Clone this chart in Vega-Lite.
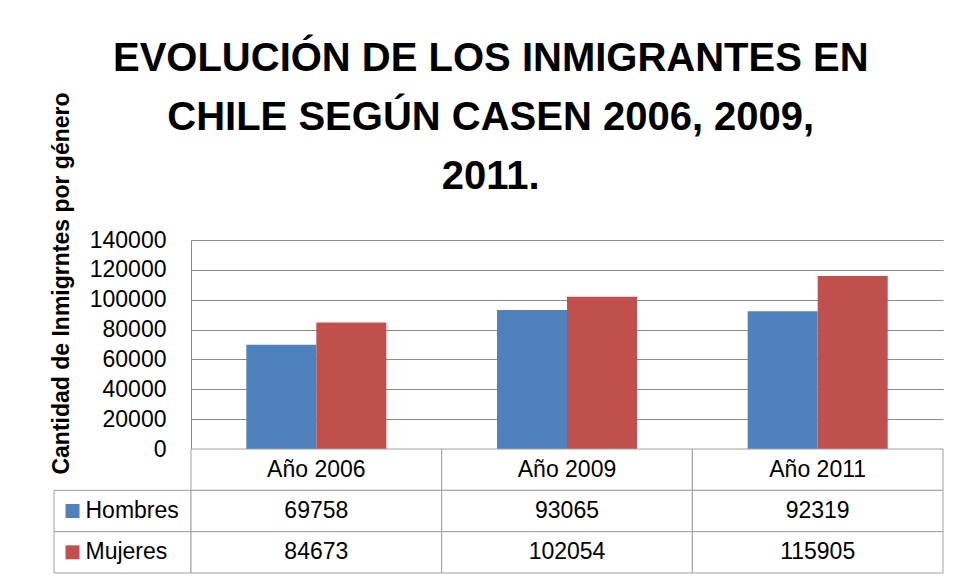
{
  "$schema": "https://vega.github.io/schema/vega-lite/v6.json",
  "background": "white",
  "padding": {"left": 49, "top": 38, "right": 5, "bottom": 5},
  "title": {
    "text": ["EVOLUCIÓN DE LOS INMIGRANTES EN", "CHILE SEGÚN CASEN 2006, 2009,", "2011."],
    "font": "Liberation Sans",
    "fontSize": 40,
    "fontWeight": "bold",
    "lineHeight": 59,
    "color": "black",
    "anchor": "middle",
    "offset": -105,
    "dx": -6
  },
  "datasets": {
    "casen": [
      {"year": "Año 2006", "series": "Hombres", "value": 69758},
      {"year": "Año 2006", "series": "Mujeres", "value": 84673},
      {"year": "Año 2009", "series": "Hombres", "value": 93065},
      {"year": "Año 2009", "series": "Mujeres", "value": 102054},
      {"year": "Año 2011", "series": "Hombres", "value": 92319},
      {"year": "Año 2011", "series": "Mujeres", "value": 115905}
    ],
    "headers": [
      {"year": "Año 2006", "series": "header"},
      {"year": "Año 2009", "series": "header"},
      {"year": "Año 2011", "series": "header"}
    ]
  },
  "columns": 2,
  "spacing": 0,
  "bounds": "flush",
  "align": "each",
  "resolve": {"scale": {"x": "independent", "y": "independent", "color": "shared"}},
  "concat": [
    {
      "width": 137,
      "height": 209,
      "data": {"values": []},
      "mark": "point"
    },
    {
      "width": 752,
      "height": 209,
      "data": {"name": "casen"},
      "mark": {"type": "bar"},
      "encoding": {
        "x": {"field": "year", "type": "nominal", "scale": {"paddingInner": 0.4415, "paddingOuter": 0.2207}, "axis": null},
        "xOffset": {"field": "series", "type": "nominal", "scale": {"paddingInner": 0, "paddingOuter": 0}},
        "y": {
          "field": "value", "type": "quantitative",
          "scale": {"domain": [0, 140000], "nice": false},
          "axis": {
            "values": [0, 20000, 40000, 60000, 80000, 100000, 120000, 140000],
            "format": "d",
            "title": "Cantidad de Inmigrntes por género",
            "grid": true, "gridColor": "#8c8c8c", "gridWidth": 1,
            "domainColor": "#8c8c8c",
            "ticks": false,
            "labelPadding": 25,
            "labelFont": "Liberation Sans", "labelFontSize": 23, "labelColor": "black",
            "titleFont": "Liberation Sans", "titleFontSize": 23, "titleFontWeight": "bold", "titleColor": "black",
            "titleY": 43, "titleX": -118
          }
        },
        "color": {"field": "series", "type": "nominal", "scale": {"domain": ["Hombres", "Mujeres"], "range": ["#4F81BD", "#C0504D"]}, "legend": null}
      }
    },
    {
      "width": 137,
      "height": 124,
      "data": {"name": "casen"},
      "transform": [{"filter": "datum.year == 'Año 2006'"}],
      "encoding": {
        "x": {"field": "year", "type": "nominal", "scale": {"paddingInner": 0, "paddingOuter": 0}, "axis": null},
        "y": {"field": "series", "type": "nominal", "scale": {"domain": ["header", "Hombres", "Mujeres"], "paddingInner": 0, "paddingOuter": 0}, "axis": null}
      },
      "layer": [
        {"mark": {"type": "rect", "fill": "white", "stroke": "#a0a0a0", "strokeWidth": 1}},
        {"mark": {"type": "point", "shape": "square", "filled": true, "opacity": 1, "size": 196, "xOffset": -50},
         "encoding": {"color": {"field": "series", "type": "nominal", "legend": null}}},
        {"mark": {"type": "text", "align": "left", "dx": -37, "font": "Liberation Sans", "fontSize": 23, "color": "black"},
         "encoding": {"text": {"field": "series"}}}
      ]
    },
    {
      "width": 752,
      "height": 124,
      "encoding": {
        "x": {"field": "year", "type": "nominal", "scale": {"paddingInner": 0, "paddingOuter": 0}, "axis": null},
        "y": {"field": "series", "type": "nominal", "scale": {"domain": ["header", "Hombres", "Mujeres"], "paddingInner": 0, "paddingOuter": 0}, "axis": null}
      },
      "layer": [
        {"data": {"name": "headers"}, "mark": {"type": "rect", "fill": "white", "stroke": "#a0a0a0", "strokeWidth": 1}},
        {"data": {"name": "headers"}, "mark": {"type": "text", "font": "Liberation Sans", "fontSize": 23, "color": "black"},
         "encoding": {"text": {"field": "year"}}},
        {"data": {"name": "casen"}, "mark": {"type": "rect", "fill": "white", "stroke": "#a0a0a0", "strokeWidth": 1}},
        {"data": {"name": "casen"}, "mark": {"type": "text", "font": "Liberation Sans", "fontSize": 23, "color": "black"},
         "encoding": {"text": {"field": "value", "type": "quantitative", "format": "d"}}}
      ]
    }
  ],
  "config": {"view": {"stroke": null}}
}
